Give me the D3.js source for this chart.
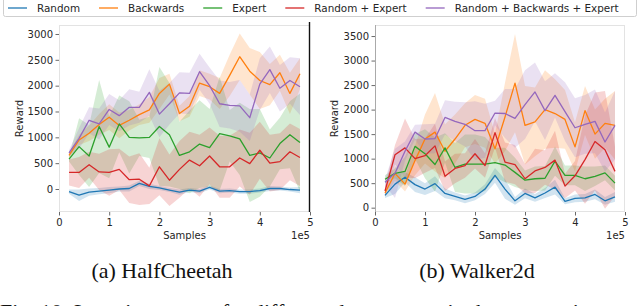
<!DOCTYPE html>
<html>
<head>
<meta charset="utf-8">
<script src="https://cdn.jsdelivr.net/npm/d3@7"></script>
<style>
  body { margin: 0; background: #fff; }
  svg { display: block; }
</style>
</head>
<body>
<div id="chart"></div>
<script>
// x positions, in units of 1e5 samples
const samples = [0.2, 0.4, 0.6, 0.8, 1.0, 1.2, 1.4, 1.6, 1.8, 2.0, 2.2, 2.4,
                 2.6, 2.8, 3.0, 3.2, 3.4, 3.6, 3.8, 4.0, 4.2, 4.4, 4.6, 4.8];
const seriesNames = ["Random", "Backwards", "Expert", "Random + Expert", "Random + Backwards + Expert"];
const colors = ["#1f77b4", "#ff7f0e", "#2ca02c", "#d62728", "#9467bd"];
const xTicks = [0, 1, 2, 3, 4, 5];
const cheetahTicks = [0, 500, 1000, 1500, 2000, 2500, 3000];
const walkerTicks = [0, 500, 1000, 1500, 2000, 2500, 3000, 3500];
const captions = ["(a) HalfCheetah", "(b) Walker2d"];

// HalfCheetah - mean reward
const hcRandom = [-50, -120, -60, -40, -20, 0, 10, 110, 50, 20, -20, -60, -20, -40, 30, -40, -30, -50, -50, -30, 10, 10, -10, -20];
const hcBackwards = [650, 950, 1080, 1250, 1390, 1230, 1330, 1440, 1530, 1850, 2030, 1460, 1600, 2050, 1980, 1850, 2200, 2560, 2280, 2100, 2020, 2250, 1850, 2230];
const hcExpert = [580, 820, 640, 1210, 810, 1260, 1000, 990, 1000, 1210, 1050, 650, 720, 870, 800, 1070, 1030, 970, 650, 700, 600, 880, 1050, 900];
const hcRandExp = [320, 320, 470, 330, 320, 380, 180, 190, 60, 430, 170, 380, 560, 450, 640, 430, 430, 600, 490, 750, 500, 530, 720, 610];
const hcAll = [700, 980, 1330, 1260, 1540, 1420, 1580, 1580, 1870, 1450, 1650, 1860, 1850, 2270, 2000, 1650, 1620, 1610, 1380, 2030, 2310, 1950, 2100, 1980];

// HalfCheetah - std of reward
const hcRandomSd = [40, 110, 70, 60, 60, 50, 60, 50, 50, 40, 40, 50, 40, 40, 40, 40, 40, 40, 40, 40, 50, 40, 40, 60];
const hcBackwardsSd = [50, 100, 150, 200, 250, 250, 200, 200, 250, 300, 200, 150, 200, 250, 250, 300, 400, 450, 450, 550, 400, 350, 400, 300];
const hcExpertSd = [50, 550, 600, 900, 600, 550, 700, 350, 400, 1150, 1000, 650, 800, 850, 750, 1100, 500, 700, 900, 850, 550, 500, 650, 950];
const hcRandExpSd = [250, 300, 250, 350, 450, 400, 450, 500, 350, 550, 500, 550, 550, 600, 550, 600, 600, 550, 600, 550, 550, 550, 550, 550];
const hcAllSd = [50, 200, 250, 300, 300, 300, 350, 300, 450, 450, 400, 400, 400, 350, 350, 450, 450, 500, 450, 500, 450, 450, 450, 550];

// Walker2d - mean reward
const wkRandom = [250, 480, 620, 470, 380, 490, 290, 230, 170, 230, 380, 660, 380, 140, 290, 200, 300, 420, 130, 190, 200, 270, 140, 220];
const wkBackwards = [300, 700, 480, 960, 1400, 1540, 1150, 1400, 1680, 1800, 1720, 1200, 1850, 2540, 1680, 1750, 2000, 1920, 1800, 1240, 1980, 1500, 1720, 1680];
const wkExpert = [580, 700, 740, 1250, 1100, 880, 1220, 820, 890, 890, 890, 920, 870, 720, 560, 590, 600, 950, 660, 660, 590, 640, 710, 500];
const wkRandExp = [340, 1080, 1220, 1000, 1060, 1260, 640, 800, 860, 1100, 860, 1530, 930, 880, 590, 750, 820, 970, 440, 650, 980, 1350, 1180, 740];
const wkAll = [520, 700, 1150, 1540, 1400, 1410, 1840, 1760, 1700, 1570, 1570, 1930, 1920, 1820, 2100, 2360, 1980, 2290, 1960, 1630, 1700, 1760, 1340, 1680];

// Walker2d - std of reward
const wkRandomSd = [50, 200, 100, 150, 120, 150, 100, 80, 80, 80, 100, 150, 200, 80, 100, 80, 100, 150, 60, 80, 80, 100, 80, 100];
const wkBackwardsSd = [50, 150, 150, 300, 500, 800, 550, 500, 450, 500, 500, 300, 700, 1000, 800, 700, 800, 700, 600, 500, 500, 500, 500, 700];
const wkExpertSd = [80, 100, 300, 250, 500, 550, 300, 500, 600, 600, 550, 300, 350, 300, 200, 250, 250, 300, 200, 200, 250, 200, 150, 150];
const wkRandExpSd = [100, 200, 600, 400, 350, 450, 300, 300, 250, 300, 250, 300, 400, 400, 300, 450, 350, 600, 250, 300, 900, 1000, 1200, 500];
const wkAllSd = [60, 500, 200, 150, 300, 300, 350, 400, 450, 600, 550, 250, 500, 600, 700, 600, 600, 450, 600, 600, 600, 650, 600, 700];

const width = 640;
const height = 306;
const plotTop = 25;
const plotBottom = 212;
const font = "DejaVu Sans, sans-serif";

const svg = d3.select("#chart")
    .append("svg")
    .attr("width", width)
    .attr("height", height);

function drawPanel(p) {
    const x = d3.scaleLinear().domain([0, 5]).range([p.left, p.right]);
    const y = d3.scaleLinear().domain(p.yDomain).range([plotBottom, plotTop]);
    const g = svg.append("g");

    g.append("clipPath").attr("id", p.id)
        .append("rect")
        .attr("x", p.left).attr("y", plotTop)
        .attr("width", p.right - p.left).attr("height", plotBottom - plotTop);

    // frame
    g.append("rect")
        .attr("x", p.left + 0.5).attr("y", plotTop + 0.5)
        .attr("width", p.right - p.left - 1).attr("height", plotBottom - plotTop - 1)
        .attr("fill", "none")
        .attr("stroke", "#e3e3e3");

    const plot = g.append("g").attr("clip-path", `url(#${p.id})`);

    p.means.forEach((m, i) => {
        const sd = p.sds[i];
        const area = d3.area()
            .x((d, j) => x(samples[j]))
            .y0((d, j) => y(d - sd[j]))
            .y1((d, j) => y(d + sd[j]));
        plot.append("path")
            .datum(m)
            .attr("d", area)
            .attr("fill", colors[i])
            .attr("fill-opacity", 0.2);
    });

    p.means.forEach((m, i) => {
        const line = d3.line()
            .x((d, j) => x(samples[j]))
            .y(d => y(d));
        plot.append("path")
            .datum(m)
            .attr("d", line)
            .attr("fill", "none")
            .attr("stroke", colors[i])
            .attr("stroke-width", 1.3)
            .attr("stroke-linejoin", "round");
    });

    const yAxis = g.append("g")
        .attr("transform", `translate(${p.left},0)`)
        .call(d3.axisLeft(y).tickValues(p.ticks).tickFormat(d3.format("d")).tickSize(3.5).tickPadding(2.5));
    const xAxis = g.append("g")
        .attr("transform", `translate(0,${plotBottom})`)
        .call(d3.axisBottom(x).tickValues(xTicks).tickFormat(d3.format("d")).tickSize(3.5).tickPadding(3));

    [xAxis, yAxis].forEach(a => {
        a.select(".domain").remove();
        a.selectAll(".tick line").attr("stroke", "#444").attr("stroke-width", 0.8);
        a.selectAll(".tick text")
            .attr("fill", "#262626")
            .style("font-family", font)
            .style("font-size", "10px");
    });

    if (p.spineRight) {
        g.append("line")
            .attr("x1", p.right - 0.5).attr("x2", p.right - 0.5)
            .attr("y1", plotTop - 3).attr("y2", plotBottom)
            .attr("stroke", p.spineRight).attr("stroke-width", 1.4);
    }
    if (p.spineLeft) {
        g.append("line")
            .attr("x1", p.left + 0.5).attr("x2", p.left + 0.5)
            .attr("y1", plotTop).attr("y2", plotBottom)
            .attr("stroke", p.spineLeft).attr("stroke-width", 1);
    }

    g.append("text")
        .attr("x", (p.left + p.right) / 2)
        .attr("y", 239)
        .attr("text-anchor", "middle")
        .attr("fill", "#262626")
        .style("font-family", font)
        .style("font-size", "10px")
        .text("Samples");

    g.append("text")
        .attr("x", p.right)
        .attr("y", 239)
        .attr("text-anchor", "end")
        .attr("fill", "#262626")
        .style("font-family", font)
        .style("font-size", "10px")
        .text("1e5");

    g.append("text")
        .attr("transform", `translate(${p.labelX},${(plotTop + plotBottom) / 2}) rotate(-90)`)
        .attr("text-anchor", "middle")
        .attr("dy", "0.35em")
        .attr("fill", "#262626")
        .style("font-family", font)
        .style("font-size", "10px")
        .text("Reward");

    g.append("text")
        .attr("x", p.captionX)
        .attr("y", 278)
        .attr("text-anchor", "middle")
        .attr("fill", "#111")
        .style("font-family", "Liberation Serif, Times New Roman, serif")
        .style("font-size", "22px")
        .text(p.caption);
}

drawPanel({
    id: "clip-hc", left: 59, right: 310, yDomain: [-445, 3174], ticks: cheetahTicks,
    means: [hcRandom, hcBackwards, hcExpert, hcRandExp, hcAll],
    sds: [hcRandomSd, hcBackwardsSd, hcExpertSd, hcRandExpSd, hcAllSd],
    labelX: 19, caption: captions[0], captionX: 162, spineRight: "#111"
});

drawPanel({
    id: "clip-wk", left: 375, right: 625, yDomain: [-88, 3725], ticks: walkerTicks,
    means: [wkRandom, wkBackwards, wkExpert, wkRandExp, wkAll],
    sds: [wkRandomSd, wkBackwardsSd, wkExpertSd, wkRandExpSd, wkAllSd],
    labelX: 334, caption: captions[1], captionX: 477, spineLeft: "#aaa"
});

// legend
const legend = svg.append("g");
legend.append("rect")
    .attr("x", 3.5).attr("y", -2.5)
    .attr("width", 633).attr("height", 19)
    .attr("rx", 2)
    .attr("fill", "#fff")
    .attr("stroke", "#cfcfcf");

let lx = 8;
seriesNames.forEach((name, i) => {
    legend.append("line")
        .attr("x1", lx).attr("x2", lx + 19)
        .attr("y1", 8).attr("y2", 8)
        .attr("stroke", colors[i])
        .attr("stroke-width", 1.3);
    const t = legend.append("text")
        .attr("x", lx + 29)
        .attr("y", 11.5)
        .attr("fill", "#262626")
        .style("font-family", font)
        .style("font-size", "10.4px")
        .text(name);
    lx += 29 + t.node().getComputedTextLength() + 19;
});

// figure caption, mostly cut off at the bottom edge
svg.append("text")
    .attr("x", 0)
    .attr("y", 319)
    .attr("fill", "#111")
    .style("font-family", "Liberation Serif, Times New Roman, serif")
    .style("font-size", "22px")
    .text("Fig. 10: Learning curves for different data sources in the two environments");
</script>
</body>
</html>
